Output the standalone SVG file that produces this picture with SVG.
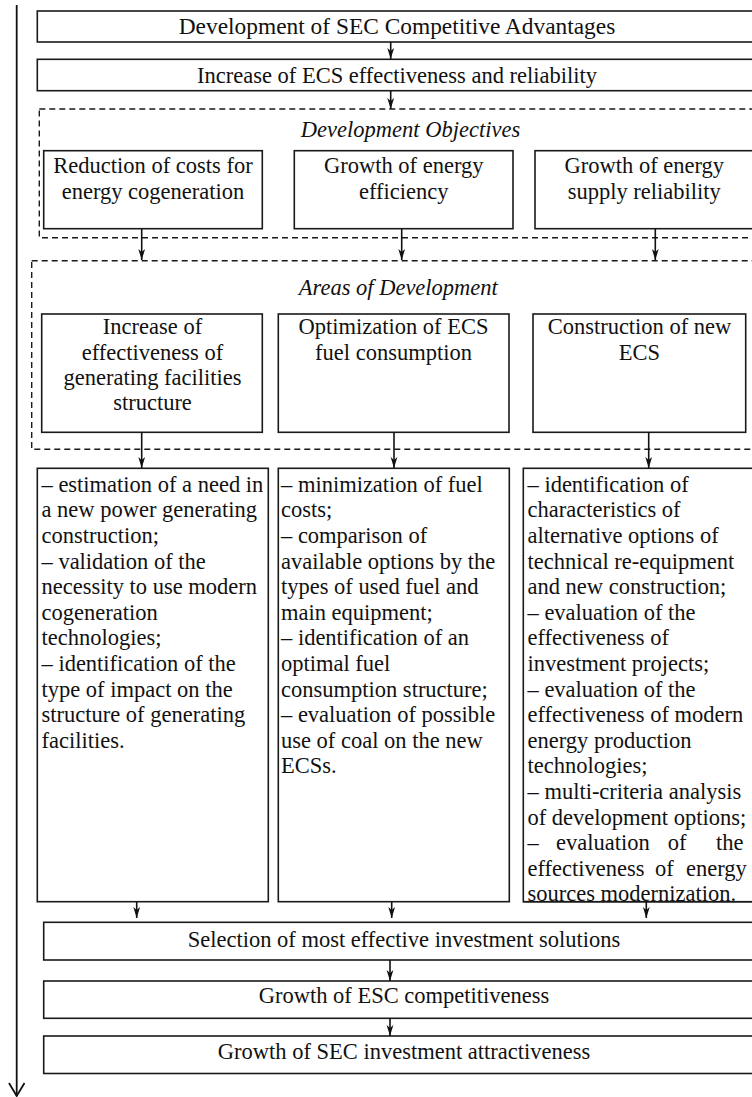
<svg xmlns="http://www.w3.org/2000/svg" width="752" height="1097" viewBox="0 0 752 1097">
<style>
.box{fill:#fff;stroke:#1a1a1a;stroke-width:1.6}
.dash{fill:none;stroke:#1a1a1a;stroke-width:1.4;stroke-dasharray:6 4}
text{font-family:"Liberation Serif","Times New Roman",serif;font-size:22.5px;fill:#111}
.c{text-anchor:middle}
.i{font-style:italic}
.t{font-size:23.4px}
.con{stroke:#111;stroke-width:1.6;fill:none}
</style>
<defs>
<marker id="ah" markerWidth="11" markerHeight="8" refX="11" refY="4" orient="auto" markerUnits="userSpaceOnUse" viewBox="0 0 11 8">
<path d="M0,0.6 L11,4 L0,7.4 L3,4 Z" fill="#111"/>
</marker>
</defs>
<rect width="752" height="1097" fill="#fff"/>

<g id="timeline">
<line x1="16.7" y1="5" x2="16.7" y2="1096" stroke="#111" stroke-width="1.8"/>
<polyline points="9,1083 16.7,1096 24.5,1083" fill="none" stroke="#111" stroke-width="1.8"/>
</g>

<g id="n-title">
<rect class="box" x="37.3" y="11" width="730" height="31"/>
<text class="c t" x="397" y="33.5">Development of SEC Competitive Advantages</text>
</g>
<g id="n-increase">
<rect class="box" x="37.3" y="59.3" width="730" height="31.4"/>
<text class="c" x="397" y="82.7">Increase of ECS effectiveness and reliability</text>
</g>

<g id="grp-objectives">
<rect class="dash" x="39.3" y="109" width="730" height="128.7"/>
<text class="c i" x="410.5" y="136.7">Development Objectives</text>
</g>
<g id="n-obj1">
<rect class="box" x="43.7" y="150.7" width="218.6" height="78"/>
<text class="c" x="153" y="172.5">Reduction of costs for</text>
<text class="c" x="153" y="199">energy cogeneration</text>
</g>
<g id="n-obj2">
<rect class="box" x="294.3" y="150.7" width="218.7" height="78"/>
<text class="c" x="403.7" y="172.5">Growth of energy</text>
<text class="c" x="403.7" y="199">efficiency</text>
</g>
<g id="n-obj3">
<rect class="box" x="535" y="150.7" width="230" height="78"/>
<text class="c" x="644.3" y="172.5">Growth of energy</text>
<text class="c" x="644.3" y="199">supply reliability</text>
</g>

<g id="grp-areas">
<rect class="dash" x="31.7" y="260.7" width="740" height="188.6"/>
<text class="c i" x="398.3" y="295">Areas of Development</text>
</g>
<g id="n-area1">
<rect class="box" x="41.7" y="314" width="220.6" height="118.3"/>
<text class="c" x="152.5" y="334.3">Increase of</text>
<text class="c" x="152.5" y="359.6">effectiveness of</text>
<text class="c" x="152.5" y="384.9">generating facilities</text>
<text class="c" x="152.5" y="410.2">structure</text>
</g>
<g id="n-area2">
<rect class="box" x="278.3" y="314" width="230.7" height="118.3"/>
<text class="c" x="393.5" y="334.3">Optimization of ECS</text>
<text class="c" x="393.5" y="359.6">fuel consumption</text>
</g>
<g id="n-area3">
<rect class="box" x="533" y="314" width="212.7" height="118.3"/>
<text class="c" x="639.5" y="334.3">Construction of new</text>
<text class="c" x="639.5" y="359.6">ECS</text>
</g>

<g id="n-detail1">
<rect class="box" x="37.3" y="468.3" width="231" height="433.4"/>
<text x="41.5" y="491.7">– estimation of a need in</text>
<text x="41.5" y="517.3">a new power generating</text>
<text x="41.5" y="542.9">construction;</text>
<text x="41.5" y="568.5">– validation of the</text>
<text x="41.5" y="594.1">necessity to use modern</text>
<text x="41.5" y="619.7">cogeneration</text>
<text x="41.5" y="645.3">technologies;</text>
<text x="41.5" y="670.9">– identification of the</text>
<text x="41.5" y="696.5">type of impact on the</text>
<text x="41.5" y="722.1">structure of generating</text>
<text x="41.5" y="747.7">facilities.</text>
</g>
<g id="n-detail2">
<rect class="box" x="278.3" y="468.3" width="231" height="433.4"/>
<text x="281" y="491.7">– minimization of fuel</text>
<text x="281" y="517.3">costs;</text>
<text x="281" y="542.9">– comparison of</text>
<text x="281" y="568.5">available options by the</text>
<text x="281" y="594.1">types of used fuel and</text>
<text x="281" y="619.7">main equipment;</text>
<text x="281" y="645.3">– identification of an</text>
<text x="281" y="670.9">optimal fuel</text>
<text x="281" y="696.5">consumption structure;</text>
<text x="281" y="722.1">– evaluation of possible</text>
<text x="281" y="747.7">use of coal on the new</text>
<text x="281" y="773.3">ECSs.</text>
</g>
<g id="n-detail3">
<rect class="box" x="523.3" y="468.3" width="245" height="433.4"/>
<text x="527.5" y="491.7">– identification of</text>
<text x="527.5" y="517.3">characteristics of</text>
<text x="527.5" y="542.9">alternative options of</text>
<text x="527.5" y="568.5">technical re-equipment</text>
<text x="527.5" y="594.1">and new construction;</text>
<text x="527.5" y="619.7">– evaluation of the</text>
<text x="527.5" y="645.3">effectiveness of</text>
<text x="527.5" y="670.9">investment projects;</text>
<text x="527.5" y="696.5">– evaluation of the</text>
<text x="527.5" y="722.1">effectiveness of modern</text>
<text x="527.5" y="747.7">energy production</text>
<text x="527.5" y="773.3">technologies;</text>
<text x="527.5" y="798.9">– multi-criteria analysis</text>
<text x="527.5" y="824.5">of development options;</text>
<text y="850.1"><tspan x="527.5">–</tspan><tspan x="556">evaluation</tspan><tspan x="667.7">of</tspan><tspan x="716">the</tspan></text>
<text y="875.7"><tspan x="527.5">effectiveness</tspan><tspan x="655">of</tspan><tspan x="686">energy</tspan></text>
<text x="527.5" y="900.5">sources modernization.</text>
<line x1="523.3" y1="901.7" x2="760" y2="901.7" stroke="#1a1a1a" stroke-width="1.6"/>
</g>

<g id="n-select">
<rect class="box" x="43.7" y="922.3" width="730" height="37.7"/>
<text class="c" x="404" y="946.7">Selection of most effective investment solutions</text>
</g>
<g id="n-growth-esc">
<rect class="box" x="43.7" y="981" width="730" height="37.3"/>
<text class="c" x="404" y="1003.3">Growth of ESC competitiveness</text>
</g>
<g id="n-growth-sec">
<rect class="box" x="43.7" y="1036" width="730" height="37.5"/>
<text class="c" x="404" y="1059">Growth of SEC investment attractiveness</text>
</g>

<g id="connectors">
<line class="con" x1="390.7" y1="42" x2="390.7" y2="59" marker-end="url(#ah)"/>
<line class="con" x1="390.7" y1="91" x2="390.7" y2="109" marker-end="url(#ah)"/>
<line class="con" x1="141.7" y1="229" x2="141.7" y2="260" marker-end="url(#ah)"/>
<line class="con" x1="401.7" y1="229" x2="401.7" y2="260" marker-end="url(#ah)"/>
<line class="con" x1="655.3" y1="229" x2="655.3" y2="260" marker-end="url(#ah)"/>
<line class="con" x1="141.7" y1="432.3" x2="141.7" y2="468" marker-end="url(#ah)"/>
<line class="con" x1="394" y1="432.3" x2="394" y2="468" marker-end="url(#ah)"/>
<line class="con" x1="648.7" y1="432.3" x2="648.7" y2="468" marker-end="url(#ah)"/>
<line class="con" x1="136.7" y1="902" x2="136.7" y2="918" marker-end="url(#ah)"/>
<line class="con" x1="391.7" y1="902" x2="391.7" y2="918" marker-end="url(#ah)"/>
<line class="con" x1="646.3" y1="902" x2="646.3" y2="918" marker-end="url(#ah)"/>
<line class="con" x1="390" y1="960" x2="390" y2="981" marker-end="url(#ah)"/>
<line class="con" x1="390" y1="1018.3" x2="390" y2="1036" marker-end="url(#ah)"/>
</g>
</svg>
